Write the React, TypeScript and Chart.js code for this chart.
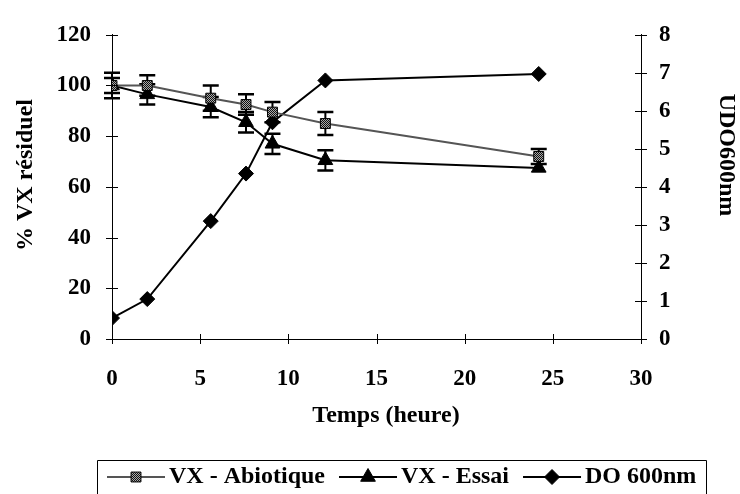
import React, { useEffect, useRef } from 'react';
import { Chart, registerables } from 'chart.js';

Chart.register(...registerables);

// ---- data ----
const hours = [0, 2, 5.6, 7.6, 9.1, 12.1, 24.2];
const abiotique = [100, 100, 95, 92.5, 89.5, 85, 72];
const abiotiqueErr = [5, 4, 5, 4, 4, 4.5, 3];
const essai = [100, 96.5, 91.5, 85.5, 77, 70.5, 67.5];
const essaiErr = [3, 4, 4, 4, 4, 4, 0];
const do600 = [0.55, 1.05, 3.1, 4.35, 5.7, 6.8, 6.97];

const xTicks = [0, 5, 10, 15, 20, 25, 30];
const yLeftTicks = [0, 20, 40, 60, 80, 100, 120];
const yRightTicks = [0, 1, 2, 3, 4, 5, 6, 7, 8];

const seriesNames = ['VX - Abiotique', 'VX - Essai', 'DO 600nm'];
const xTitle = 'Temps (heure)';
const yLeftTitle = '% VX résiduel';
const yRightTitle = 'UDO600nm';

const FONT = '"Liberation Serif", "Times New Roman", serif';

export default function App() {
  const ref = useRef<HTMLCanvasElement>(null);

  useEffect(() => {
    const canvas = ref.current!;
    const ctx0 = canvas.getContext('2d')!;
    const pc = document.createElement('canvas');
    pc.width = 2;
    pc.height = 2;
    const pctx = pc.getContext('2d')!;
    pctx.fillStyle = '#aaa';
    pctx.fillRect(0, 0, 2, 2);
    pctx.fillStyle = '#111';
    pctx.fillRect(0, 0, 1, 1);
    pctx.fillRect(1, 1, 1, 1);
    const pattern = ctx0.createPattern(pc, 'repeat')!;

    const errorBars = {
      id: 'errorBars',
      beforeDatasetsDraw(chart: any) {
        const { ctx } = chart;
        const xs = chart.scales.x;
        const ys = chart.scales.y;
        const sets: [number[], number[]][] = [
          [abiotique, abiotiqueErr],
          [essai, essaiErr],
        ];
        ctx.save();
        ctx.strokeStyle = '#000';
        sets.forEach(([vals, errs]) => {
          vals.forEach((v, i) => {
            const e = errs[i];
            if (!e) return;
            const x = xs.getPixelForValue(hours[i]);
            const y1 = ys.getPixelForValue(v + e);
            const y2 = ys.getPixelForValue(v - e);
            ctx.lineWidth = 2;
            ctx.beginPath();
            ctx.moveTo(x, y1);
            ctx.lineTo(x, y2);
            ctx.stroke();
            ctx.lineWidth = 2.5;
            ctx.beginPath();
            ctx.moveTo(x - 8, y1);
            ctx.lineTo(x + 8, y1);
            ctx.moveTo(x - 8, y2);
            ctx.lineTo(x + 8, y2);
            ctx.stroke();
          });
        });
        ctx.restore();
      },
    };

    const crossTicks = {
      id: 'crossTicks',
      afterDraw(chart: any) {
        const { ctx, chartArea } = chart;
        const xs = chart.scales.x;
        const yl = chart.scales.y;
        const yr = chart.scales.y2;
        ctx.save();
        ctx.strokeStyle = '#000';
        ctx.lineWidth = 1;
        ctx.beginPath();
        xTicks.forEach((v) => {
          const x = Math.round(xs.getPixelForValue(v)) + 0.5;
          ctx.moveTo(x, chartArea.bottom - 5);
          ctx.lineTo(x, chartArea.bottom + 5);
        });
        yLeftTicks.forEach((v) => {
          const y = Math.round(yl.getPixelForValue(v)) + 0.5;
          ctx.moveTo(chartArea.left - 6, y);
          ctx.lineTo(chartArea.left + 6, y);
        });
        yRightTicks.forEach((v) => {
          const y = Math.round(yr.getPixelForValue(v)) + 0.5;
          ctx.moveTo(chartArea.right - 6, y);
          ctx.lineTo(chartArea.right + 6, y);
        });
        ctx.stroke();

        // axis titles
        ctx.fillStyle = '#000';
        ctx.font = `bold 24px ${FONT}`;
        ctx.textAlign = 'center';
        ctx.textBaseline = 'alphabetic';
        ctx.fillText(xTitle, 386, 422);

        ctx.textBaseline = 'middle';
        ctx.save();
        ctx.translate(26, 175);
        ctx.rotate(-Math.PI / 2);
        ctx.fillText(yLeftTitle, 0, 0);
        ctx.restore();

        ctx.save();
        ctx.translate(726, 155);
        ctx.rotate(Math.PI / 2);
        ctx.fillText(yRightTitle, 0, 0);
        ctx.restore();
        ctx.restore();
      },
    };

    const legendBox = {
      id: 'legendBox',
      afterDraw(chart: any) {
        const { ctx } = chart;
        const left = 97;
        const top = 460;
        const sampleW = 58;
        const sampleGap = 4;
        const entryGap = 14;
        ctx.save();
        ctx.font = `bold 24px ${FONT}`;
        ctx.textBaseline = 'middle';
        ctx.textAlign = 'left';
        const cy = 477;
        let x = left + 10;
        const styles = ['rect', 'triangle', 'rectRot'];
        seriesNames.forEach((name, i) => {
          const ds = chart.data.datasets[i];
          ctx.strokeStyle = ds.borderColor;
          ctx.lineWidth = ds.borderWidth;
          ctx.beginPath();
          ctx.moveTo(x, cy);
          ctx.lineTo(x + sampleW, cy);
          ctx.stroke();
          ctx.fillStyle = ds.pointBackgroundColor;
          ctx.strokeStyle = '#000';
          ctx.lineWidth = 1;
          const r = ds.pointRadius;
          const mx = x + sampleW / 2;
          ctx.beginPath();
          if (styles[i] === 'rect') {
            const s = r * Math.SQRT1_2;
            ctx.rect(mx - s, cy - s, 2 * s, 2 * s);
          } else if (styles[i] === 'triangle') {
            ctx.moveTo(mx, cy - r);
            ctx.lineTo(mx + r * 0.866, cy + r * 0.5);
            ctx.lineTo(mx - r * 0.866, cy + r * 0.5);
            ctx.closePath();
          } else {
            ctx.moveTo(mx, cy - r);
            ctx.lineTo(mx + r, cy);
            ctx.lineTo(mx, cy + r);
            ctx.lineTo(mx - r, cy);
            ctx.closePath();
          }
          ctx.fill();
          ctx.stroke();
          ctx.fillStyle = '#000';
          const tx = x + sampleW + sampleGap;
          ctx.fillText(name, tx, cy);
          x = tx + ctx.measureText(name).width + entryGap;
        });
        const right = Math.round(x - entryGap + 10);
        ctx.strokeStyle = '#000';
        ctx.lineWidth = 1;
        ctx.beginPath();
        ctx.moveTo(left + 0.5, 500);
        ctx.lineTo(left + 0.5, top + 0.5);
        ctx.lineTo(right + 0.5, top + 0.5);
        ctx.lineTo(right + 0.5, 500);
        ctx.stroke();
        ctx.restore();
      },
    };

    const tickFont = { family: FONT, size: 23, weight: 'bold' as const };

    const chart = new Chart(canvas, {
      type: 'line',
      data: {
        datasets: [
          {
            label: seriesNames[0],
            data: hours.map((h, i) => ({ x: h, y: abiotique[i] })),
            yAxisID: 'y',
            borderColor: '#555',
            borderWidth: 2,
            pointStyle: 'rect',
            pointRadius: 7,
            pointBackgroundColor: pattern,
            pointBorderColor: '#000',
            pointBorderWidth: 1,
          },
          {
            label: seriesNames[1],
            data: hours.map((h, i) => ({ x: h, y: essai[i] })),
            yAxisID: 'y',
            borderColor: '#000',
            borderWidth: 2,
            pointStyle: 'triangle',
            pointRadius: 8.5,
            pointBackgroundColor: '#000',
            pointBorderColor: '#000',
            pointBorderWidth: 1,
          },
          {
            label: seriesNames[2],
            data: hours.map((h, i) => ({ x: h, y: do600[i] })),
            yAxisID: 'y2',
            borderColor: '#000',
            borderWidth: 2,
            pointStyle: 'rectRot',
            pointRadius: 7.5,
            pointBackgroundColor: '#000',
            pointBorderColor: '#000',
            pointBorderWidth: 1,
          },
        ] as any,
      },
      options: {
        responsive: false,
        animation: false,
        events: [],
        layout: { padding: { top: 26, left: 0, right: 0, bottom: 0 } },
        plugins: {
          legend: { display: false },
          tooltip: { enabled: false },
        },
        scales: {
          x: {
            type: 'linear',
            min: 0,
            max: 30,
            afterBuildTicks: (s: any) => {
              s.ticks = xTicks.map((v) => ({ value: v }));
            },
            afterFit: (s: any) => {
              s.height = 155;
            },
            grid: { display: false, drawTicks: false, tickLength: 0 },
            border: { display: true, color: '#000', width: 1 },
            ticks: { font: tickFont, color: '#000', padding: 26, maxRotation: 0 },
          },
          y: {
            type: 'linear',
            position: 'left',
            min: 0,
            max: 120,
            afterBuildTicks: (s: any) => {
              s.ticks = yLeftTicks.map((v) => ({ value: v }));
            },
            afterFit: (s: any) => {
              s.width = 112;
            },
            grid: { display: false, drawTicks: false, tickLength: 0 },
            border: { display: true, color: '#000', width: 1 },
            ticks: { font: tickFont, color: '#000', padding: 21 },
          },
          y2: {
            type: 'linear',
            position: 'right',
            min: 0,
            max: 8,
            afterBuildTicks: (s: any) => {
              s.ticks = yRightTicks.map((v) => ({ value: v }));
            },
            afterFit: (s: any) => {
              s.width = 99;
            },
            grid: { display: false, drawTicks: false, tickLength: 0 },
            border: { display: true, color: '#000', width: 1 },
            ticks: { font: tickFont, color: '#000', padding: 18 },
          },
        },
      } as any,
      plugins: [errorBars, crossTicks, legendBox],
    });

    return () => chart.destroy();
  }, []);

  return (
    <div style={{ position: 'fixed', left: 0, top: 0, width: 740, height: 494, background: '#fff' }}>
      <canvas ref={ref} width={740} height={494} style={{ display: 'block' }} />
    </div>
  );
}
